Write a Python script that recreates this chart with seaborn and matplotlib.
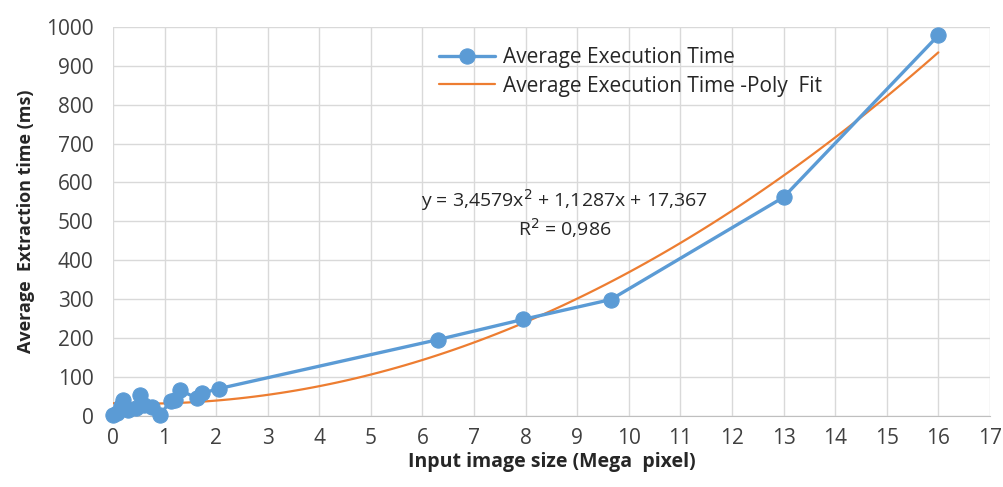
import numpy as np
import pandas as pd
import matplotlib
matplotlib.use('Agg')
import matplotlib.pyplot as plt
import seaborn as sns

# image size in mega pixels and average extraction time (ms)
size_mp = [0.0, 0.08, 0.15, 0.2, 0.3, 0.45, 0.52, 0.6, 0.75, 0.91,
           1.12, 1.2, 1.3, 1.62, 1.72, 2.05, 6.3, 7.95, 9.65, 13.0, 16.0]
time_ms = [3, 8, 25, 41, 15, 20, 54, 28, 23, 3,
           38, 40, 66, 46, 58, 70, 196, 248, 299, 562, 978]

eq_text = 'y = 3,4579x$^2$ + 1,1287x + 17,367'
r2_text = 'R$^2$ = 0,986'

df = pd.DataFrame({'size': size_mp, 'time': time_ms})

sns.set_style('white')
plt.rcParams['font.family'] = ['Open Sans', 'DejaVu Sans']

blue = '#5B9BD5'
orange = '#ED7D31'

fig = plt.figure(figsize=(10.04, 4.87), dpi=100)
ax = fig.add_axes([0.1125, 0.146, 0.8735, 0.799])

# polynomial trendline (order 2)
sns.regplot(data=df, x='size', y='time', order=2, ci=None, scatter=False,
            line_kws={'color': orange, 'lw': 1.6, 'zorder': 2}, ax=ax,
            label='Average Execution Time -Poly  Fit')
sns.lineplot(data=df, x='size', y='time', color=blue, lw=2.4, marker='o',
             markersize=11, markeredgecolor=blue, clip_on=False, zorder=3,
             ax=ax, label='Average Execution Time', sort=True)

ax.set_xlim(0, 17)
ax.set_ylim(0, 1000)
ax.set_xticks(range(0, 18))
ax.set_yticks(range(0, 1001, 100))
ax.grid(True, color='#d9d9d9', lw=1)
ax.set_axisbelow(True)
for s in ['top', 'right', 'left']:
    ax.spines[s].set_visible(False)
ax.spines['bottom'].set_color('#bfbfbf')
ax.tick_params(labelsize=15, colors='#404040', length=0)
ax.tick_params(axis='y', pad=14)
ax.tick_params(axis='x', pad=9)
for lab in ax.get_xticklabels() + ax.get_yticklabels():
    lab.set_color('#404040')

ax.set_xlabel('Input image size (Mega  pixel)', fontsize=14, fontweight='bold',
              labelpad=2)
ax.set_ylabel('Average  Extraction time (ms)', fontsize=13, fontweight='bold',
              labelpad=8)

ax.text(8.75, 555, eq_text, fontsize=14, ha='center', va='center', color='#262626')
ax.text(8.75, 484, r2_text, fontsize=14, ha='center', va='center', color='#262626')

h, l = ax.get_legend_handles_labels()
order = [l.index('Average Execution Time'), l.index('Average Execution Time -Poly  Fit')]
ax.legend([h[i] for i in order], [l[i] for i in order], loc='upper left',
          bbox_to_anchor=(0.35, 0.995), frameon=False, fontsize=15,
          handlelength=2.7, handletextpad=0.4, labelspacing=0.35)

fig.savefig('out.png', dpi=100)
